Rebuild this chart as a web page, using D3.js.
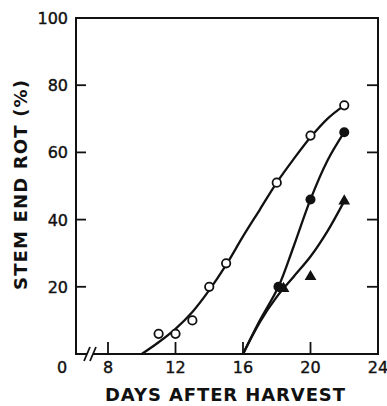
<!DOCTYPE html>
<html>
<head>
<meta charset="utf-8">
<script src="https://cdn.jsdelivr.net/npm/d3@7"></script>
<style>
  body { margin: 0; background: #fff; }
  svg text { fill: #111; }
</style>
</head>
<body>
<div id="chart"></div>
<script>
// values
var xTicks = [8, 12, 16, 20, 24];
var yTicks = [20, 40, 60, 80, 100];

// open circles
var openDays = [11, 12, 13, 14, 15, 18, 20, 22];
var openRot  = [6, 6, 10, 20, 27, 51, 65, 74];
var openCurve = [[10, 0], [11, 3.5], [12, 7.5], [13, 12.5], [14, 19], [15, 26.5], [16, 35], [17, 43], [18, 51], [19, 58], [20, 64.5], [21, 70], [22, 74]];

// filled circles
var filledDays = [18.1, 20, 22];
var filledRot  = [20, 46, 66];
var filledCurve = [[16, 0], [17, 10], [18.1, 20], [19, 32], [20, 46], [21, 57.5], [22, 66]];

// triangles
var triDays = [18.4, 20, 22];
var triRot  = [19.5, 23, 45.5];
var triCurve = [[16, 0], [17, 9.5], [18, 17], [19, 23], [20, 29], [21, 36.5], [22, 45.5]];

var W = 387, H = 406;
var padL = 76, padR = 378, padT = 18, padB = 354;

var svg = d3.select("#chart").append("svg")
  .attr("width", W)
  .attr("height", H);

var x = d3.scaleLinear().domain([8, 24]).range([108, padR]);
var y = d3.scaleLinear().domain([0, 100]).range([padB, padT]);

var ink = "#111";
var tickFont = "16px 'DejaVu Sans'";

// frame (left, top, right)
svg.append("path")
  .attr("d", "M" + padL + "," + padB + "V" + padT + "H" + padR + "V" + padB)
  .attr("fill", "none").attr("stroke", ink).attr("stroke-width", 2);

// bottom axis with a break near the origin
svg.append("line").attr("x1", padL - 1).attr("x2", 87).attr("y1", padB).attr("y2", padB)
  .attr("stroke", ink).attr("stroke-width", 2);
svg.append("line").attr("x1", 93).attr("x2", padR + 1).attr("y1", padB).attr("y2", padB)
  .attr("stroke", ink).attr("stroke-width", 2);
[84, 90].forEach(function(bx) {
  svg.append("line")
    .attr("x1", bx).attr("y1", padB + 7)
    .attr("x2", bx + 6).attr("y2", padB - 7)
    .attr("stroke", ink).attr("stroke-width", 1.8);
});

// x ticks pointing inward
svg.selectAll(".xtick").data(xTicks.filter(function(d) { return d < 24; }))
  .enter().append("line")
  .attr("x1", function(d) { return x(d); })
  .attr("x2", function(d) { return x(d); })
  .attr("y1", padB).attr("y2", padB - 12)
  .attr("stroke", ink).attr("stroke-width", 1.8);

svg.selectAll(".xlab").data(xTicks)
  .enter().append("text")
  .attr("x", function(d) { return x(d); })
  .attr("y", 373)
  .attr("text-anchor", "middle")
  .style("font", tickFont)
  .attr("stroke", ink).attr("stroke-width", 0.4)
  .text(function(d) { return d; });

// origin label
svg.append("text").attr("x", 62).attr("y", 373)
  .attr("text-anchor", "middle")
  .style("font", tickFont)
  .attr("stroke", ink).attr("stroke-width", 0.4)
  .text("0");

// y ticks on both sides, pointing inward
var yIn = yTicks.filter(function(d) { return d < 100; });
svg.selectAll(".ytickL").data(yIn)
  .enter().append("line")
  .attr("x1", padL).attr("x2", padL + 10)
  .attr("y1", function(d) { return y(d); })
  .attr("y2", function(d) { return y(d); })
  .attr("stroke", ink).attr("stroke-width", 1.8);
svg.selectAll(".ytickR").data(yIn)
  .enter().append("line")
  .attr("x1", padR).attr("x2", padR - 11)
  .attr("y1", function(d) { return y(d); })
  .attr("y2", function(d) { return y(d); })
  .attr("stroke", ink).attr("stroke-width", 1.8);

svg.selectAll(".ylab").data(yTicks)
  .enter().append("text")
  .attr("x", 68)
  .attr("y", function(d) { return y(d) + 6; })
  .attr("text-anchor", "end")
  .style("font", tickFont)
  .attr("stroke", ink).attr("stroke-width", 0.4)
  .text(function(d) { return d; });

// axis titles
svg.append("text")
  .attr("x", 225).attr("y", 401)
  .attr("text-anchor", "middle")
  .attr("textLength", 240).attr("lengthAdjust", "spacing")
  .style("font", "bold 18px 'DejaVu Sans'")
  .text("DAYS  AFTER  HARVEST");

svg.append("text")
  .attr("transform", "translate(27,185) rotate(-90)")
  .attr("text-anchor", "middle")
  .attr("textLength", 210).attr("lengthAdjust", "spacing")
  .style("font", "bold 18px 'DejaVu Sans'")
  .text("STEM END ROT (%)");

// curves
var line = d3.line()
  .x(function(d) { return x(d[0]); })
  .y(function(d) { return y(d[1]); })
  .curve(d3.curveCatmullRom.alpha(0.5));

[openCurve, filledCurve, triCurve].forEach(function(c) {
  svg.append("path")
    .attr("d", line(c))
    .attr("fill", "none")
    .attr("stroke", ink)
    .attr("stroke-width", 2.3);
});

// markers
svg.selectAll(".open").data(openDays)
  .enter().append("circle")
  .attr("cx", function(d) { return x(d); })
  .attr("cy", function(d, i) { return y(openRot[i]); })
  .attr("r", 4.2)
  .attr("fill", "#fff").attr("stroke", ink).attr("stroke-width", 1.8);

svg.selectAll(".filled").data(filledDays)
  .enter().append("circle")
  .attr("cx", function(d) { return x(d); })
  .attr("cy", function(d, i) { return y(filledRot[i]); })
  .attr("r", 5)
  .attr("fill", ink);

var tri = d3.symbol().type(d3.symbolTriangle).size(60);
svg.selectAll(".tri").data(triDays)
  .enter().append("path")
  .attr("d", tri)
  .attr("transform", function(d, i) { return "translate(" + x(d) + "," + y(triRot[i]) + ")"; })
  .attr("fill", ink);
</script>
</body>
</html>
